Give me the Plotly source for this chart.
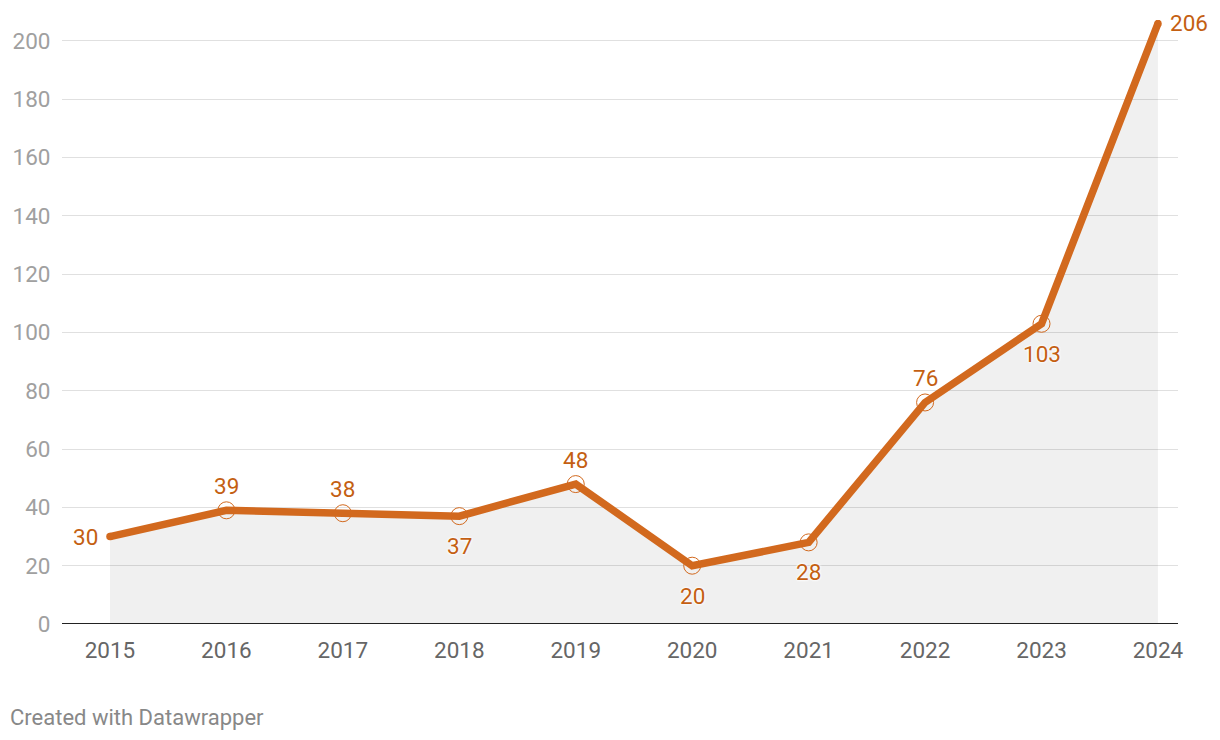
import plotly.graph_objects as go

years = [2015, 2016, 2017, 2018, 2019, 2020, 2021, 2022, 2023, 2024]
values = [30, 39, 38, 37, 48, 20, 28, 76, 103, 206]
label_pos = ["left", "top", "top", "bottom", "top", "bottom", "bottom", "top", "bottom", "right"]
y_ticks = [0, 20, 40, 60, 80, 100, 120, 140, 160, 180, 200]

LINE = "#d2691e"
LABEL = "#c45f12"

fig = go.Figure()

# area
fig.add_trace(go.Scatter(x=years, y=values, mode="lines", line=dict(width=0),
                         fill="tozeroy", fillcolor="rgba(0,0,0,0.06)", hoverinfo="skip"))
# line
fig.add_trace(go.Scatter(x=years, y=values, mode="lines",
                         line=dict(color=LINE, width=7.5), hoverinfo="skip"))
# open circle markers (not on end points)
fig.add_trace(go.Scatter(x=years[1:-1], y=values[1:-1], mode="markers",
                         marker=dict(symbol="circle-open", size=17, color=LINE,
                                     line=dict(width=1, color=LINE)), hoverinfo="skip"))
# round end caps
fig.add_trace(go.Scatter(x=[years[0], years[-1]], y=[values[0], values[-1]], mode="markers",
                         marker=dict(symbol="circle", size=7.5, color=LINE), hoverinfo="skip"))

shifts = {"left": (-24, 0), "right": (31, 1), "top": (0, 24), "bottom": (0, -30)}
for x, v, p in zip(years, values, label_pos):
    dx, dy = shifts[p]
    fig.add_annotation(x=x, y=v, text=str(v), showarrow=False,
                       xshift=dx, yshift=dy,
                       font=dict(family="Roboto", size=22.5, color=LABEL,
                                 shadow="0px 0px 3px white, 0px 0px 3px white, 0px 0px 2px white"))

fig.add_annotation(x=0, y=0, xref="paper", yref="paper", xanchor="left", yanchor="middle",
                   text="Created with Datawrapper", showarrow=False,
                   xshift=-54, yshift=-93,
                   font=dict(family="Roboto", size=22, color="#888888"))

fig.update_layout(
    width=1204, height=724,
    margin=dict(l=54, r=34, t=12, b=108),
    paper_bgcolor="white", plot_bgcolor="white",
    showlegend=False,
    font=dict(family="Roboto"),
    xaxis=dict(range=[2014.588, 2024.172], tickmode="array", tickvals=years,
               ticktext=[str(y) for y in years], showgrid=False, zeroline=False,
               showline=False, ticks="outside", ticklen=6, tickcolor="rgba(0,0,0,0)",
               tickfont=dict(size=22.5, color="#666666"), fixedrange=True,
               automargin=False),
    yaxis=dict(range=[0, 207.2], tickmode="array", tickvals=y_ticks,
               showgrid=True, gridcolor="#e0e0e0", gridwidth=1, zeroline=False,
               showline=False, ticks="outside", ticklen=6, tickcolor="rgba(0,0,0,0)",
               tickfont=dict(size=22.5, color="#a0a0a0"), fixedrange=True,
               automargin=False),
    shapes=[dict(type="line", xref="paper", yref="y", x0=0, x1=1, y0=0, y1=0,
                 line=dict(color="#222222", width=2), layer="above")],
)

fig.write_html("out.html")
